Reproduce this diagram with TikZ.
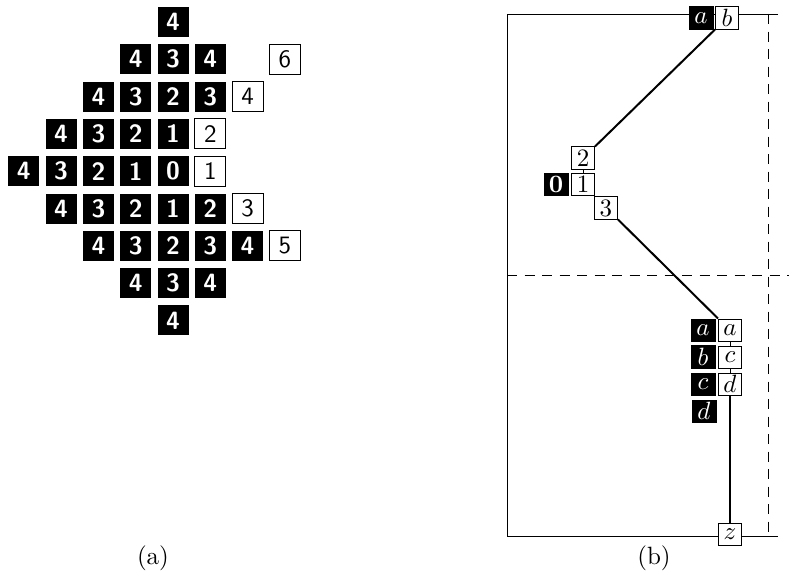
\documentclass[tikz,border=0pt]{standalone}
\usetikzlibrary{positioning}
\begin{document}
\begin{tikzpicture}[x=0.4pt, y=-0.4pt,
  blk/.style={fill=black, text=white, inner sep=0pt, minimum width=12.4pt, minimum height=12pt, font=\sffamily\bfseries},
  wht/.style={draw=black, fill=white, inner sep=0pt, minimum width=12.4pt, minimum height=12pt, font=\sffamily},
  rblk/.style={fill=black, text=white, inner sep=0pt, minimum width=10pt, minimum height=9.2pt},
  rwht/.style={draw=black, fill=white, inner sep=0pt, minimum width=9.2pt, minimum height=8.8pt},
  link/.style={thick}]
\useasboundingbox (0,0) rectangle (789,580);

% (a) distances on the grid
\begin{scope}[xshift=69.2pt, yshift=-8.8pt, x=14.92pt, y=-14.92pt]
  \foreach \r/\c/\v in {0/0/4,
      1/-1/4, 1/0/3, 1/1/4,
      2/-2/4, 2/-1/3, 2/0/2, 2/1/3,
      3/-3/4, 3/-2/3, 3/-1/2, 3/0/1,
      4/-4/4, 4/-3/3, 4/-2/2, 4/-1/1, 4/0/0,
      5/-3/4, 5/-2/3, 5/-1/2, 5/0/1, 5/1/2,
      6/-2/4, 6/-1/3, 6/0/2, 6/1/3, 6/2/4,
      7/-1/4, 7/0/3, 7/1/4,
      8/0/4}
    \node[blk] (g\r\c) at (\c,\r) {\v};
  \foreach \r/\c/\v in {1/3/6, 2/2/4, 3/1/2, 4/1/1, 5/2/3, 6/3/5}
    \node[wht] (w\r\c) at (\c,\r) {\v};
\end{scope}
\node[anchor=base] (capa) at (153,564) {(a)};

% (b) frame
\draw (778,14) -- (507,14) -- (507,536) -- (778,536);
\draw[dash pattern=on 4pt off 3pt] (768,14) -- (768,536);
\draw[dash pattern=on 4pt off 3pt] (507,275) -- (789,275);

\node[rblk] (ta) at (701,18) {$a$};
\node[rwht] (tb) at (727,18) {$b$};
\node[rwht] (n2) at (583,158) {2};
\node[rwht] (n1) at (583,184.5) {1};
\node[rblk] (n0) at (556,184.5) {\textbf{0}};
\node[rwht] (n3) at (606,208) {3};
\node[rwht] (ra) at (730,330) {$a$};
\node[rwht] (rc) at (730,357) {$c$};
\node[rwht] (rd) at (730,384) {$d$};
\node[rblk] (la) at (703,330) {$a$};
\node[rblk] (lb) at (703,357) {$b$};
\node[rblk] (lc) at (703,384) {$c$};
\node[rblk] (ld) at (704,411) {$d$};
\node[rwht] (z) at (730,534) {$z$};

\draw[link] (tb.south west) -- (n2.north east);
\draw (n2.south) -- (n1.north);
\draw[link] (n3.south east) -- (ra.north west);
\draw (ra.south) -- (rc.north);
\draw (rc.south) -- (rd.north);
\draw[link] (rd.south) -- (z.north);

\node[anchor=base] (capb) at (654,564) {(b)};
\end{tikzpicture}
\end{document}
